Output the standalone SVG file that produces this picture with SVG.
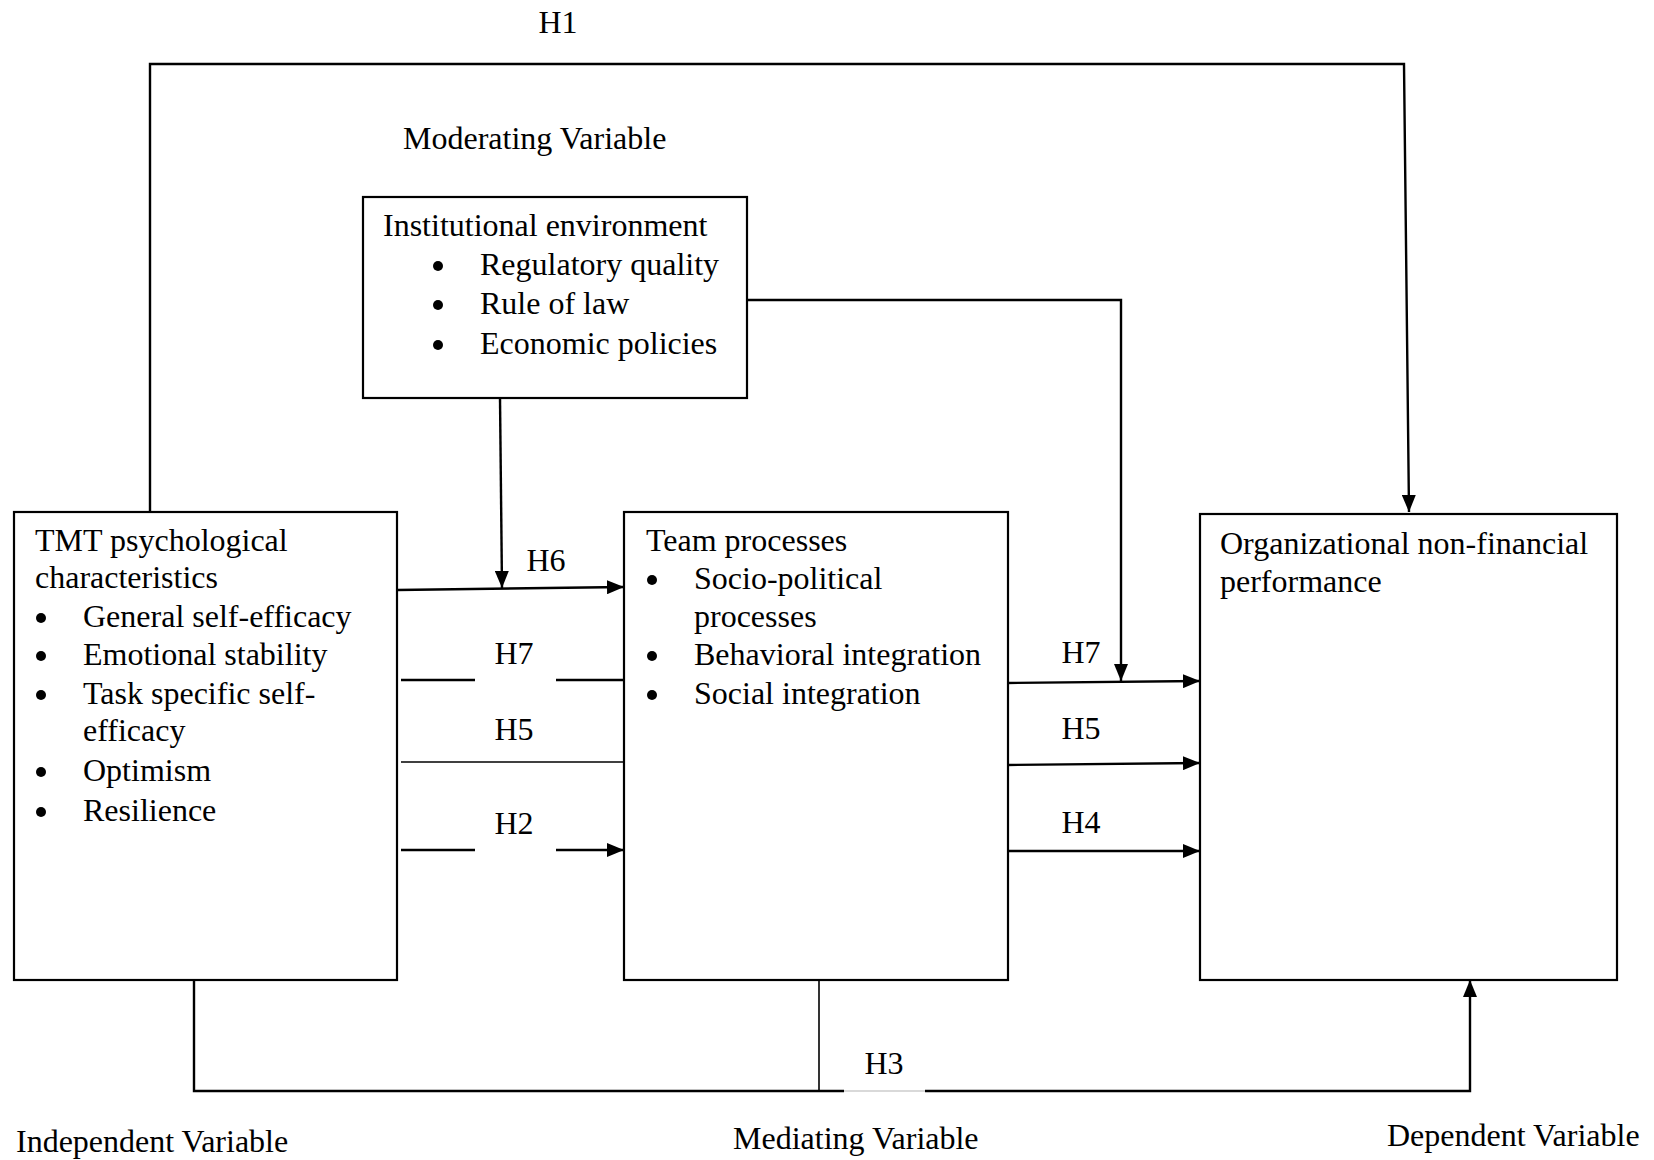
<svg xmlns="http://www.w3.org/2000/svg" width="1654" height="1160" viewBox="0 0 1654 1160">
<defs>
<style>
text{font-family:"Liberation Serif","Times New Roman",serif;font-size:32px;fill:#000}
.box{fill:#fff;stroke:#000;stroke-width:2.2}
.c{fill:none;stroke:#000;stroke-width:2.4}
.thin{fill:none;stroke:#000;stroke-width:1.6}
.lbl{text-anchor:middle}
.b{fill:#000}
</style>
<marker id="ah" markerUnits="userSpaceOnUse" markerWidth="17" markerHeight="14" refX="17" refY="7" orient="auto">
<path d="M0,0 L17,7 L0,14 z" fill="#000"/>
</marker>
</defs>
<rect width="1654" height="1160" fill="#fff"/>

<g id="node-institutional">
<rect class="box" x="363" y="197" width="384" height="201"/>
<text x="383" y="236">Institutional environment</text>
<circle class="b" cx="438" cy="266" r="5"/>
<text x="480" y="275">Regulatory quality</text>
<circle class="b" cx="438" cy="305" r="5"/>
<text x="480" y="314">Rule of law</text>
<circle class="b" cx="438" cy="345" r="5"/>
<text x="480" y="354">Economic policies</text>
</g>

<g id="node-tmt">
<rect class="box" x="14" y="512" width="383" height="468"/>
<text x="35" y="551">TMT psychological</text>
<text x="35" y="588">characteristics</text>
<circle class="b" cx="41" cy="618" r="5"/>
<text x="83" y="627">General self-efficacy</text>
<circle class="b" cx="41" cy="656" r="5"/>
<text x="83" y="665">Emotional stability</text>
<circle class="b" cx="41" cy="695" r="5"/>
<text x="83" y="704">Task specific self-</text>
<text x="83" y="741">efficacy</text>
<circle class="b" cx="41" cy="772" r="5"/>
<text x="83" y="781">Optimism</text>
<circle class="b" cx="41" cy="812" r="5"/>
<text x="83" y="821">Resilience</text>
</g>

<g id="node-team">
<rect class="box" x="624" y="512" width="384" height="468"/>
<text x="646" y="551">Team processes</text>
<circle class="b" cx="652" cy="580" r="5"/>
<text x="694" y="589">Socio-political</text>
<text x="694" y="627">processes</text>
<circle class="b" cx="652" cy="656" r="5"/>
<text x="694" y="665">Behavioral integration</text>
<circle class="b" cx="652" cy="695" r="5"/>
<text x="694" y="704">Social integration</text>
</g>

<g id="node-org">
<rect class="box" x="1200" y="514" width="417" height="466"/>
<text x="1220" y="554">Organizational non-financial</text>
<text x="1220" y="592">performance</text>
</g>

<g id="connectors">
<path class="c" d="M150,512 V64 H1404 L1409,512" marker-end="url(#ah)"/>
<path class="c" d="M500,398 L502,588" marker-end="url(#ah)"/>
<path class="c" d="M747,300 H1121 V681" marker-end="url(#ah)"/>
<path class="c" d="M397,590 L624,587" marker-end="url(#ah)"/>
<path class="c" d="M401,680 H475 M556,680 H624"/>
<path class="thin" d="M401,762 H624"/>
<path class="c" d="M401,850 H475"/>
<path class="c" d="M556,850 H624" marker-end="url(#ah)"/>
<path class="c" d="M1007,683 L1200,681" marker-end="url(#ah)"/>
<path class="c" d="M1007,765 L1200,763" marker-end="url(#ah)"/>
<path class="c" d="M1007,851 H1200" marker-end="url(#ah)"/>
<path class="c" d="M194,980 V1091 H844"/>
<path d="M844,1091 H925" stroke="#ccc" stroke-width="1.5" fill="none"/>
<path class="c" d="M925,1091 H1470 V980" marker-end="url(#ah)"/>
<path class="thin" d="M819,980 V1091"/>
</g>

<g id="labels">
<text class="lbl" x="558" y="33">H1</text>
<text x="403" y="149">Moderating Variable</text>
<text class="lbl" x="546" y="571">H6</text>
<text class="lbl" x="514" y="664">H7</text>
<text class="lbl" x="514" y="740">H5</text>
<text class="lbl" x="514" y="834">H2</text>
<text class="lbl" x="1081" y="663">H7</text>
<text class="lbl" x="1081" y="739">H5</text>
<text class="lbl" x="1081" y="833">H4</text>
<text class="lbl" x="884" y="1074">H3</text>
<text x="16" y="1152">Independent Variable</text>
<text x="733" y="1149">Mediating Variable</text>
<text x="1387" y="1146">Dependent Variable</text>
</g>
</svg>
